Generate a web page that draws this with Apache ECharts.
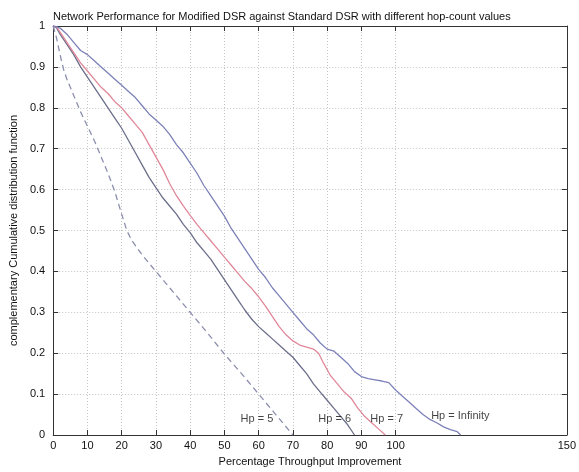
<!DOCTYPE html>
<html>
<head>
<meta charset="utf-8">
<script src="https://cdn.jsdelivr.net/npm/echarts@6/dist/echarts.min.js"></script>
<style>
html,body{margin:0;padding:0;background:#fff;}
#chart{width:579px;height:472px;}
</style>
</head>
<body>
<div id="chart"></div>
<script>
// ---- data ----
var titleText = 'Network Performance for Modified DSR against Standard DSR with different hop-count values';
var xName = 'Percentage Throughput Improvement';
var yName = 'complementary Cumulative distribution function';
var xTicks = [0,10,20,30,40,50,60,70,80,90,100,150];
var yTicks = [0,0.1,0.2,0.3,0.4,0.5,0.6,0.7,0.8,0.9,1];

var seriesNames = ['Hp = 5','Hp = 6','Hp = 7','Hp = Infinity'];

var hp5 = [[0,1],[1,0.97],[2,0.93],[3,0.895],[4,0.87],[6,0.83],[8,0.79],[10,0.755],[12,0.72],[14,0.68],[16,0.64],[18,0.595],[20,0.54],[21.5,0.5],[23,0.475],[26,0.44],[30,0.40],[35,0.35],[40,0.30],[45,0.25],[50,0.198],[55,0.15],[60,0.10],[65,0.05],[70,0]];

var hp6 = [[0,1],[1,0.995],[2,0.98],[4,0.955],[6,0.93],[8,0.9],[10,0.875],[12,0.85],[14,0.825],[16,0.8],[18,0.775],[20,0.75],[22,0.72],[24,0.69],[26,0.66],[28,0.63],[30,0.605],[32,0.58],[34,0.56],[36,0.54],[38,0.515],[40,0.495],[42,0.47],[44,0.45],[46,0.43],[48,0.405],[50,0.38],[52,0.355],[54,0.33],[56,0.305],[58,0.283],[60,0.265],[62,0.25],[64,0.235],[66,0.22],[68,0.205],[70,0.19],[72,0.17],[74,0.15],[76,0.125],[78,0.105],[80,0.085],[82,0.065],[84,0.045],[86,0.025],[88,0]];

var hp7 = [[0,1],[1,0.998],[2,0.985],[4,0.96],[6,0.935],[8,0.91],[10,0.89],[12,0.87],[14,0.85],[16,0.835],[18,0.815],[20,0.8],[22,0.78],[24,0.76],[26,0.74],[28,0.71],[30,0.68],[32,0.65],[34,0.615],[36,0.585],[38,0.56],[40,0.537],[42,0.515],[44,0.495],[46,0.475],[48,0.455],[50,0.435],[52,0.415],[54,0.395],[56,0.375],[58,0.358],[60,0.338],[62,0.315],[64,0.29],[66,0.265],[68,0.245],[70,0.23],[72,0.22],[74,0.215],[76,0.21],[77.5,0.2],[79,0.175],[81,0.145],[83,0.125],[85,0.105],[87,0.09],[89,0.065],[91,0.045],[93,0.03],[95,0.015],[97,0]];

var hpInf = [[0,1],[1,0.998],[2,0.995],[4,0.98],[6,0.96],[8,0.94],[10,0.93],[12,0.915],[14,0.9],[16,0.885],[18,0.87],[20,0.855],[22,0.84],[24,0.825],[26,0.805],[28,0.785],[30,0.77],[32,0.755],[34,0.735],[36,0.71],[38,0.69],[40,0.665],[42,0.64],[44,0.61],[46,0.585],[48,0.56],[50,0.535],[52,0.505],[54,0.48],[56,0.455],[58,0.43],[60,0.405],[62,0.385],[64,0.36],[66,0.34],[68,0.32],[70,0.3],[72,0.28],[74,0.26],[76,0.245],[78,0.225],[80,0.21],[82,0.205],[84,0.19],[86,0.175],[88,0.155],[90,0.143],[92,0.138],[94,0.135],[96,0.132],[98,0.128],[100,0.11],[102,0.095],[104,0.08],[106,0.065],[108,0.05],[110,0.038],[112,0.03],[114,0.02],[116,0.013],[118,0.008],[119,0]];

// annotation anchor points (data coords) for the curve labels
var labelX = [59.5, 82.2, 97.4, 118.9];
var labelY = [0.04, 0.04, 0.04, 0.046];

// ---- chart ----
var FONT = 'Liberation Sans, Arial, sans-serif';
var axisColor = '#333';
var gridColor = '#c4c4c4';

function lineSeries(name, data, color, dashed) {
  return {
    name: name, type: 'line', data: data, showSymbol: false, symbol: 'none',
    xAxisIndex: 0, yAxisIndex: 0, silent: true, animation: false,
    lineStyle: { color: color, width: 1.3, type: dashed ? [6, 4] : 'solid' },
    z: 3
  };
}

var tickStyle = { inside: true, length: 5, lineStyle: { color: axisColor } };

var option = {
  animation: false,
  backgroundColor: '#fff',
  title: {
    text: titleText, left: 48, top: 6,
    textStyle: { fontFamily: FONT, fontSize: 11, fontWeight: 'normal', color: '#111' }
  },
  grid: { left: 45, right: 11, top: 26, bottom: 36, containLabel: false },
  xAxis: [{
    type: 'value', min: 0, max: 150, interval: 10, position: 'bottom',
    name: xName, nameLocation: 'middle', nameGap: 21,
    nameTextStyle: { fontFamily: FONT, fontSize: 11, color: '#111' },
    axisLine: { show: true, lineStyle: { color: axisColor, width: 1 } },
    axisTick: Object.assign({ customValues: xTicks }, tickStyle),
    axisLabel: { customValues: xTicks, fontFamily: FONT, fontSize: 11, color: '#111', margin: 5 },
    splitLine: { show: true, lineStyle: { color: gridColor, type: [1, 2], width: 1 } }
  }, {
    type: 'value', min: 0, max: 150, interval: 10, position: 'top',
    axisLine: { show: true, onZero: false, lineStyle: { color: axisColor, width: 1 } },
    axisTick: Object.assign({ customValues: xTicks }, tickStyle),
    axisLabel: { show: false }, splitLine: { show: false }
  }],
  yAxis: [{
    type: 'value', min: 0, max: 1, interval: 0.1, position: 'left',
    name: yName, nameLocation: 'middle', nameGap: 29, nameRotate: 90,
    nameTextStyle: { fontFamily: FONT, fontSize: 11, color: '#111' },
    axisLine: { show: true, lineStyle: { color: axisColor, width: 1 } },
    axisTick: tickStyle,
    axisLabel: { fontFamily: FONT, fontSize: 11, color: '#111', margin: 8,
      formatter: function (v) { return (Math.round(v * 10) / 10).toString(); } },
    splitLine: { show: true, lineStyle: { color: gridColor, type: [1, 2], width: 1 } }
  }, {
    type: 'value', min: 0, max: 1, interval: 0.1, position: 'right',
    axisLine: { show: true, onZero: false, lineStyle: { color: axisColor, width: 1 } },
    axisTick: tickStyle, axisLabel: { show: false }, splitLine: { show: false }
  }],
  series: [
    lineSeries(seriesNames[0], hp5, '#8c8fae', true),
    lineSeries(seriesNames[1], hp6, '#6b6f8a', false),
    lineSeries(seriesNames[2], hp7, '#e0879a', false),
    lineSeries(seriesNames[3], hpInf, '#7c82b8', false),
    {
      type: 'scatter', silent: true, symbolSize: 0, z: 5,
      data: seriesNames.map(function (n, i) { return { value: [labelX[i], labelY[i]], name: n }; }),
      label: { show: true, position: 'inside', formatter: '{b}',
        fontFamily: FONT, fontSize: 11, color: '#111' }
    }
  ]
};

var chart = echarts.init(document.getElementById('chart'), null, { renderer: 'canvas' });
chart.setOption(option);
</script>
</body>
</html>
